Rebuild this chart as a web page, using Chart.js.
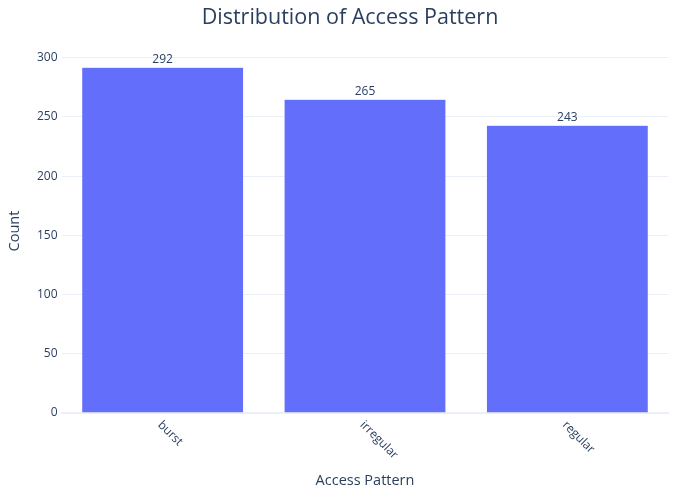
<!DOCTYPE html>
<html>
<head>
<meta charset="utf-8">
<script src="https://cdn.jsdelivr.net/npm/chart.js@4.4.1/dist/chart.umd.min.js"></script>
<style>
html,body{margin:0;padding:0;background:#fff;}
#wrap{width:700px;height:500px;}
</style>
</head>
<body>
<div id="wrap"><canvas id="c" width="700" height="500"></canvas></div>
<script>
const categories = ["burst", "irregular", "regular"];
const counts = [292, 265, 243];
const yTicks = [0, 50, 100, 150, 200, 250, 300];

const FONT = "'Open Sans', 'Noto Sans', sans-serif";
const TXT = '#2a3f5f';

const valueLabels = {
  id: 'valueLabels',
  afterDatasetsDraw(chart) {
    const ctx = chart.ctx;
    const meta = chart.getDatasetMeta(0);
    ctx.save();
    ctx.font = '12px ' + FONT;
    ctx.fillStyle = TXT;
    ctx.textAlign = 'center';
    ctx.textBaseline = 'bottom';
    meta.data.forEach((bar, i) => {
      ctx.fillText(String(counts[i]), bar.x, bar.y - 2);
    });
    ctx.restore();
  }
};

const rotatedXLabels = {
  id: 'rotatedXLabels',
  afterDraw(chart) {
    const ctx = chart.ctx;
    const xs = chart.scales.x;
    ctx.save();
    ctx.font = '12px ' + FONT;
    ctx.fillStyle = TXT;
    ctx.textAlign = 'left';
    ctx.textBaseline = 'middle';
    categories.forEach((c, i) => {
      const px = xs.getPixelForValue(i);
      ctx.save();
      ctx.translate(px - 3, xs.top + 10);
      ctx.rotate(Math.PI / 4);
      ctx.fillText(c, 0, 0);
      ctx.restore();
    });
    ctx.restore();
  }
};

new Chart(document.getElementById('c'), {
  type: 'bar',
  data: {
    labels: categories,
    datasets: [{
      data: counts,
      backgroundColor: '#636efa',
      borderColor: 'rgba(255,255,255,0.6)',
      borderWidth: 0.5,
      barPercentage: 0.8,
      categoryPercentage: 1.0
    }]
  },
  options: {
    responsive: false,
    animation: false,
    devicePixelRatio: 1,
    layout: { padding: { left: 0, right: 0, top: 0, bottom: 0 } },
    plugins: {
      legend: { display: false },
      tooltip: { enabled: false },
      title: {
        display: true,
        text: 'Distribution of Access Pattern',
        color: TXT,
        font: { family: FONT, size: 21.5, weight: 'normal' },
        padding: { top: 5, bottom: 18.2 }
      }
    },
    scales: {
      x: {
        grid: { display: false, drawTicks: false },
        border: { display: true, color: '#ebf0f8', width: 2 },
        ticks: { display: false },
        title: {
          display: true,
          text: 'Access Pattern',
          color: TXT,
          font: { family: FONT, size: 14.5 },
          padding: { top: 4, bottom: 10 }
        },
        afterFit(scale) { scale.height = 87; }
      },
      y: {
        min: 0,
        max: 307.4,
        grid: { color: '#ebf0f8', drawTicks: false, lineWidth: 1 },
        border: { display: false },
        ticks: {
          stepSize: 50,
          padding: 4,
          color: TXT,
          font: { family: FONT, size: 12 }
        },
        afterBuildTicks(axis) {
          axis.ticks = yTicks.map(v => ({ value: v }));
        },
        title: {
          display: true,
          text: 'Count',
          color: TXT,
          font: { family: FONT, size: 14.5 },
          padding: { top: 6, bottom: 0 }
        },
        afterFit(scale) { scale.width = 61.5; }
      },
      yRight: {
        position: 'right',
        display: true,
        grid: { display: false, drawTicks: false },
        border: { display: false },
        ticks: { display: false },
        afterFit(scale) { scale.width = 31.5; }
      }
    }
  },
  plugins: [valueLabels, rotatedXLabels]
});
</script>
</body>
</html>
